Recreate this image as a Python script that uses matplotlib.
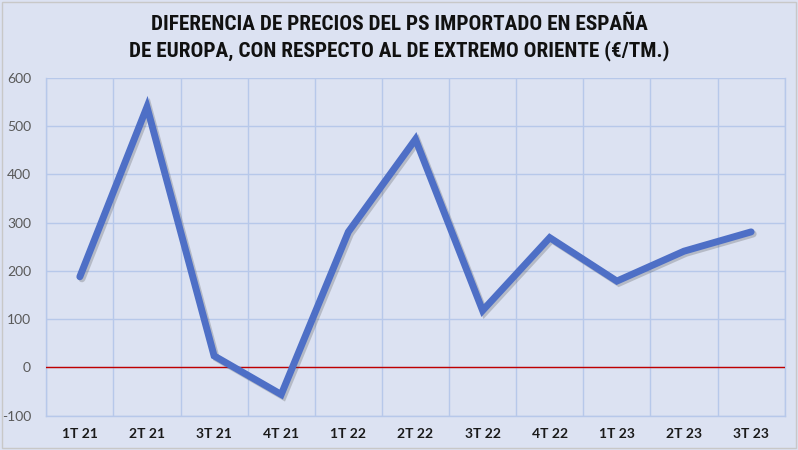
import matplotlib
matplotlib.use("Agg")
import matplotlib.pyplot as plt
import matplotlib.patheffects as pe
import numpy as np

categories = ["1T 21", "2T 21", "3T 21", "4T 21", "1T 22", "2T 22", "3T 22",
              "4T 22", "1T 23", "2T 23", "3T 23"]
values = [188, 540, 24, -56, 281, 473, 118, 269, 179, 241, 281]
yticks = [-100, 0, 100, 200, 300, 400, 500, 600]
title_lines = ["DIFERENCIA DE PRECIOS DEL PS IMPORTADO EN ESPAÑA",
               "DE EUROPA, CON RESPECTO AL DE EXTREMO ORIENTE (€/TM.)"]

bg = "#DCE2F2"
grid_c = "#B7C8EA"
line_c = "#4E6FC6"

plt.rcParams["font.family"] = ["Lato", "DejaVu Sans"]

fig = plt.figure(figsize=(7.98, 4.5), dpi=100, facecolor=bg)
ax = fig.add_axes([0.058, 0.0762, 0.9253, 0.7505])
ax.set_facecolor(bg)

x = np.arange(len(categories))
ax.plot(x, values, color=line_c, lw=5.0, solid_capstyle="round", solid_joinstyle="miter",
        zorder=4,
        path_effects=[pe.SimpleLineShadow(offset=(1.5, -1.5), shadow_color="#444444", alpha=0.25),
                      pe.Normal()])
ax.axhline(0, color="#C00000", lw=1.0, zorder=3)

ax.set_xlim(-0.5, len(categories) - 0.5)
ax.set_ylim(-100, 600)
ax.set_yticks(yticks)
ax.set_yticklabels([str(v) for v in yticks], color="#595959", fontsize=10)
ax.set_xticks(x)
ax.set_xticklabels(categories, fontsize=10, fontweight="bold", color="#1a1a1a")
ax.set_xticks(np.arange(-0.5, len(categories), 1.0), minor=True)
ax.tick_params(axis="both", which="both", length=0)
ax.tick_params(axis="x", pad=9)
ax.tick_params(axis="y", pad=11)
ax.grid(True, axis="y", which="major", color=grid_c, lw=1.0, zorder=1)
ax.grid(True, axis="x", which="minor", color=grid_c, lw=1.0, zorder=1)
ax.grid(False, axis="x", which="major")
for s in ax.spines.values():
    s.set_color(grid_c)
    s.set_linewidth(1.0)
ax.spines["top"].set_visible(False)

tfam = ["Liberation Sans Narrow", "Roboto Condensed", "Lato", "DejaVu Sans"]
fig.text(0.5, 1 - 24.5 / 450, title_lines[0], ha="center", va="center", fontsize=15.3,
         fontweight="bold", color="#111111", family=tfam)
fig.text(0.5, 1 - 50.5 / 450, title_lines[1], ha="center", va="center", fontsize=15.3,
         fontweight="bold", color="#111111", family=tfam)

fig.patches.append(plt.Rectangle((0.002, 0.004), 0.996, 0.992, transform=fig.transFigure,
                                 fill=False, edgecolor="#C8C8C8", lw=1.0))

fig.savefig("out.png", dpi=100, facecolor=bg)
